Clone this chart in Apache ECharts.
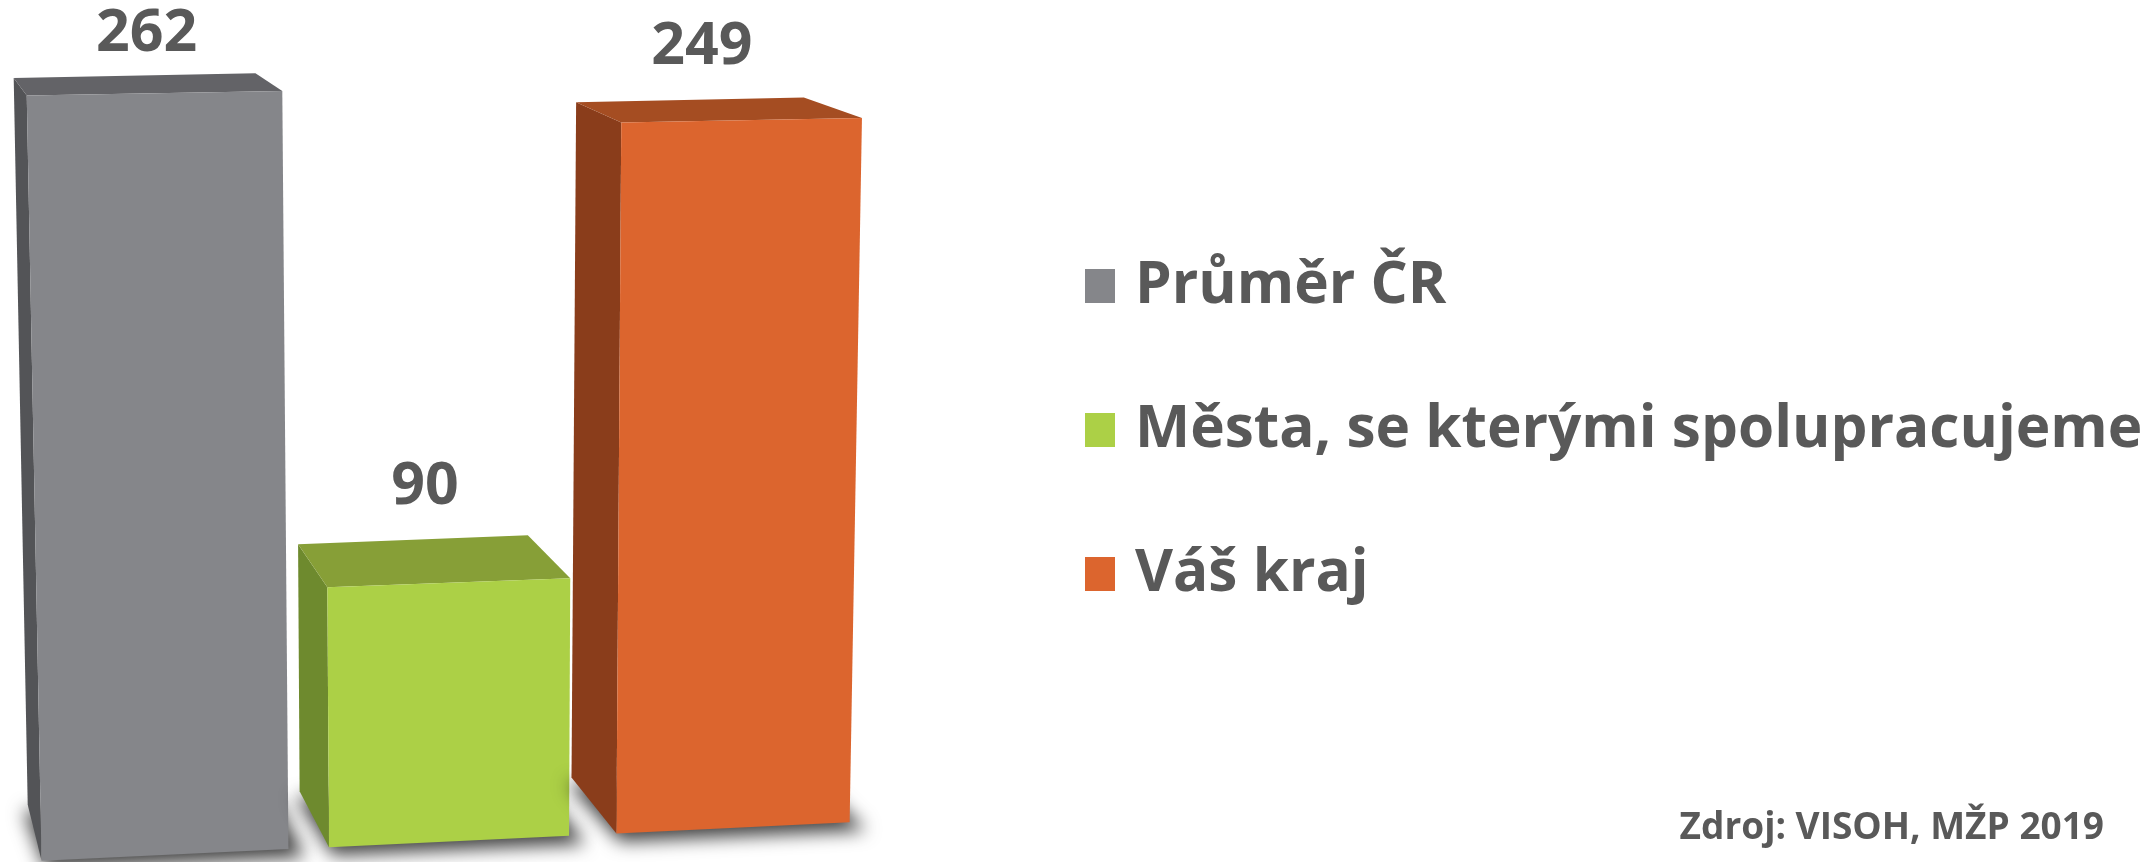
<!DOCTYPE html>
<html><head><meta charset="utf-8">
<script src="https://cdn.jsdelivr.net/npm/echarts@6/dist/echarts.min.js"></script>
<style>html,body{margin:0;padding:0;background:#fff}#c{width:2154px;height:862px}</style>
</head><body><div id="c"></div>
<script>
const categories = ['Průměr ČR', 'Města, se kterými spolupracujeme', 'Váš kraj'];
const values = [262, 90, 249];
const sourceText = 'Zdroj: VISOH, MŽP 2019';

const palette = [
  {front: '#85868a', top: '#636367', side: '#535457'},
  {front: '#acd046', top: '#879f37', side: '#6e8a2e'},
  {front: '#dc652e', top: '#a54d22', side: '#8a3d1b'}
];

function renderBox(params, api) {
  const i = api.value(0), v = api.value(1);
  const base = api.coord([i, 0]);
  const topP = api.coord([i, v]);
  const h = base[1] - topP[1];
  const Y0 = base[1];
  const Xc = base[0];
  const bw = api.size([1, 0])[0] * 0.845 * (1 + 1e-4 * (452 - Xc));
  const XL = Xc - bw / 2, XR = Xc + bw / 2;
  // simple perspective mapping of a point at floor x = X and height hh
  function heff(X, hh) { return hh * (0.999 + 4e-5 * (615 - X)); }
  function P(X, hh) {
    const H = heff(X, hh);
    const lean = -0.00077 + 4.565e-5 * (X - 449);
    return [X + lean * H, Y0 - 0.0477 * (X - 332) - H];
  }
  function D(p, X, hh) {
    const H = heff(X, hh);
    return [p[0] - 13 - 0.054 * (p[0] - 26), p[1] - 56 + 0.0505 * H];
  }
  const fbl = P(XL, 0), fbr = P(XR, 0), ftl = P(XL, h), ftr = P(XR, h);
  const btl = D(ftl, XL, h), btr = D(ftr, XR, h), bbl = D(fbl, XL, 0), bbr = D(fbr, XR, 0);
  const c = palette[params.seriesIndex];
  const OFF = 4000;
  const sh = [[bbl[0] - 4, bbl[1] + 6], [bbr[0] + 16, bbr[1] + 8], [fbr[0] + 16, fbr[1] + 8], [fbl[0] + 4, fbl[1] + 8]]
    .map(p => [p[0] - OFF, p[1]]);
  const labelX = (btl[0] + btr[0]) / 2 + 12;
  const labelBottom = Math.max((btl[1] + btr[1]) / 2 - 30, 57) + 7;
  return {
    type: 'group',
    children: [
      {type: 'polygon', shape: {points: sh},
        style: {fill: '#000', shadowBlur: 18, shadowOffsetX: OFF, shadowOffsetY: 0, shadowColor: 'rgba(0,0,0,0.75)'}},
      {type: 'polygon', shape: {points: [ftl, btl, bbl, fbl]}, style: {fill: c.side}},
      {type: 'polygon', shape: {points: [ftl, ftr, btr, btl]}, style: {fill: c.top}},
      {type: 'polygon', shape: {points: [ftl, ftr, fbr, fbl]}, style: {fill: c.front}},
      {type: 'text', x: labelX, y: labelBottom,
        style: {text: String(v), fill: '#595959', font: 'bold 59px "Open Sans"', textAlign: 'center', textVerticalAlign: 'bottom'}}
    ]
  };
}

const chart = echarts.init(document.getElementById('c'), null, {renderer: 'canvas'});
chart.setOption({
  animation: false,
  grid: {left: 23, width: 852, top: 18, bottom: 15},
  xAxis: {type: 'category', data: categories, show: false},
  yAxis: {type: 'value', min: 0, max: 290, show: false},
  legend: {
    orient: 'vertical', left: 1085, top: 256, padding: 0, itemWidth: 30, itemHeight: 34, itemGap: 84,
    icon: 'rect',
    textStyle: {fontFamily: 'Open Sans', fontWeight: 'bold', fontSize: 58.5, color: '#595959', lineHeight: 60, padding: [0, 0, 0, 15]},
    data: categories
  },
  graphic: [{type: 'text', right: 50, top: 810,
    style: {text: sourceText, fill: '#595959', font: 'bold 37px "Open Sans"'}}],
  series: categories.map((name, i) => ({
    type: 'custom', name: name,
    itemStyle: {color: palette[i].front},
    renderItem: renderBox,
    data: [[i, values[i]]]
  }))
});
</script></body></html>
